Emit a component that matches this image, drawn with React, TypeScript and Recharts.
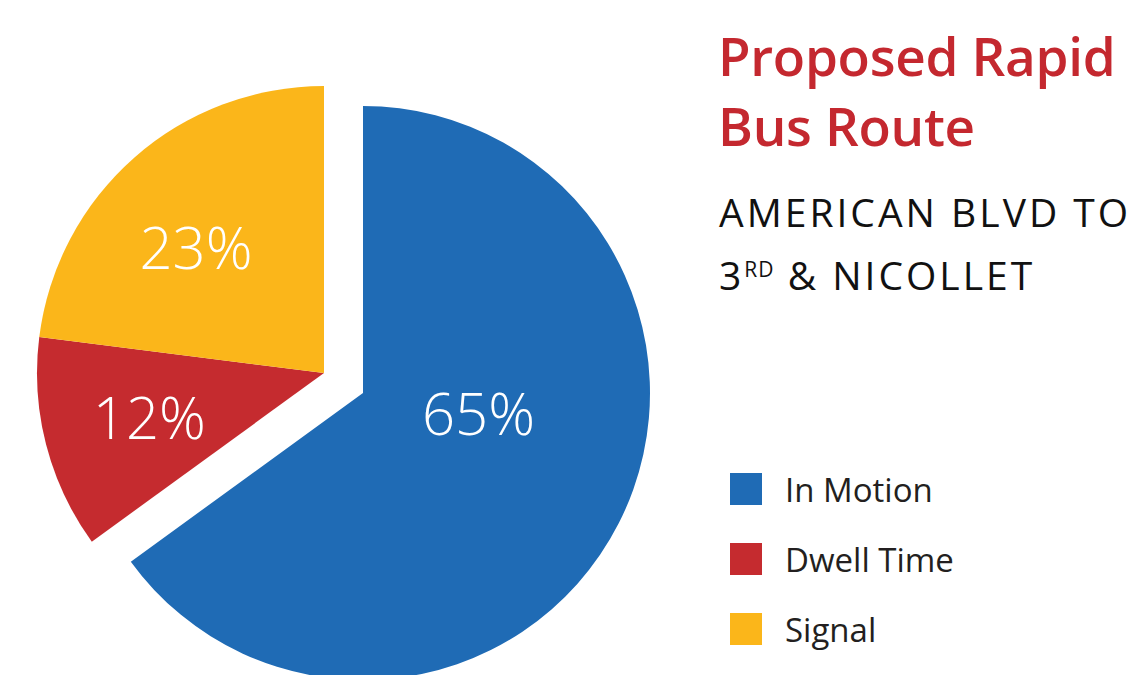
import { PieChart, Pie, Cell } from "recharts"

const categories = ["In Motion", "Dwell Time", "Signal"]
const shares = [65, 12, 23]
const colors = ["#1f6bb5", "#c52b2f", "#fbb61a"]

const data = categories.map((name, i) => ({ name, value: shares[i] }))

// where each percent label sits inside its slice: share of radius and angle
const labelSpots = [
    { r: 0.41, angle: -11 },
    { r: 0.63, angle: 195 },
    { r: 0.62, angle: 136 },
]

const RADIAN = Math.PI / 180
const font = "'Open Sans', 'Noto Sans', sans-serif"

function makeLabel(shown: number[]) {
    return (props: any) => {
        const { cx, cy, outerRadius, index } = props
        if (!shown.includes(index)) return null
        const spot = labelSpots[index]
        const x = cx + outerRadius * spot.r * Math.cos(-spot.angle * RADIAN)
        const y = cy + outerRadius * spot.r * Math.sin(-spot.angle * RADIAN)
        return (
            <text
                x={x}
                y={y}
                dy={-3}
                fill="#fff"
                textAnchor="middle"
                dominantBaseline="central"
                style={{ fontFamily: font, fontSize: 58, fontWeight: 300 }}
            >
                {`${shares[index]}%`}
            </text>
        )
    }
}

export default function App() {
    const blue = [0]
    const rest = [1, 2]
    return (
        <div
            style={{
                position: "absolute",
                left: 0,
                top: 0,
                width: 1133,
                height: 675,
                background: "#fff",
                overflow: "hidden",
                fontFamily: font,
            }}
        >
            <PieChart width={1133} height={675} margin={{ top: 0, right: 0, bottom: 0, left: 0 }}>
                <Pie
                    data={data}
                    dataKey="value"
                    cx={363}
                    cy={393}
                    outerRadius={287}
                    startAngle={90}
                    endAngle={-270}
                    stroke="none"
                    label={makeLabel(blue)}
                    labelLine={false}
                    isAnimationActive={false}
                >
                    {data.map((d, i) => (
                        <Cell key={d.name} fill={blue.includes(i) ? colors[i] : "transparent"} />
                    ))}
                </Pie>
                <Pie
                    data={data}
                    dataKey="value"
                    cx={324}
                    cy={373}
                    outerRadius={287}
                    startAngle={90}
                    endAngle={-270}
                    stroke="none"
                    label={makeLabel(rest)}
                    labelLine={false}
                    isAnimationActive={false}
                >
                    {data.map((d, i) => (
                        <Cell key={d.name} fill={rest.includes(i) ? colors[i] : "transparent"} />
                    ))}
                </Pie>
            </PieChart>

            <div
                style={{
                    position: "absolute",
                    left: 718,
                    top: 21,
                    color: "#c4282f",
                    fontWeight: 600,
                    fontSize: 53,
                    lineHeight: "70px",
                    letterSpacing: -0.3,
                    whiteSpace: "nowrap",
                }}
            >
                <div>Proposed Rapid</div>
                <div>Bus Route</div>
            </div>

            <div
                style={{
                    position: "absolute",
                    left: 719,
                    top: 180,
                    color: "#111",
                    fontSize: 39,
                    lineHeight: "63px",
                    letterSpacing: 3,
                    whiteSpace: "nowrap",
                }}
            >
                <div>AMERICAN BLVD TO</div>
                <div>
                    3<sup style={{ fontSize: 21, verticalAlign: "13px", lineHeight: 0, letterSpacing: 1 }}>RD</sup> &amp; NICOLLET
                </div>
            </div>

            {categories.map((name, i) => (
                <div
                    key={name}
                    style={{
                        position: "absolute",
                        left: 730,
                        top: 473 + i * 70,
                        display: "flex",
                        alignItems: "center",
                        height: 32,
                    }}
                >
                    <div style={{ width: 32, height: 32, background: colors[i] }} />
                    <div style={{ marginLeft: 23, fontSize: 33, color: "#231f20", whiteSpace: "nowrap" }}>{name}</div>
                </div>
            ))}
        </div>
    )
}
